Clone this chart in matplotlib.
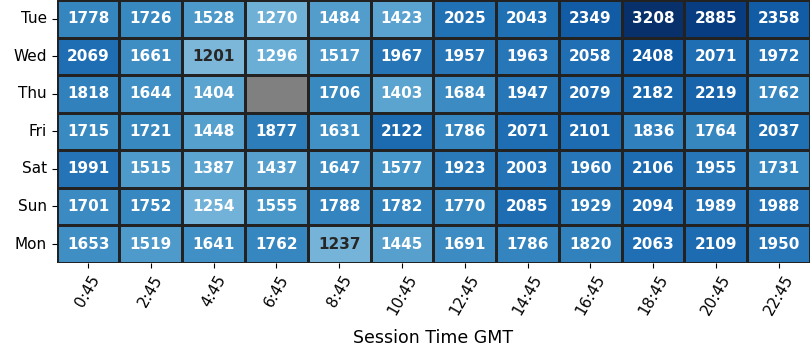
import numpy as np
import pandas as pd
import matplotlib
matplotlib.use('Agg')
import matplotlib.pyplot as plt
from matplotlib.colors import LogNorm
import seaborn as sns

dias = ['Tue', 'Wed', 'Thu', 'Fri', 'Sat', 'Sun', 'Mon']
horas = ['0:45', '2:45', '4:45', '6:45', '8:45', '10:45', '12:45',
         '14:45', '16:45', '18:45', '20:45', '22:45']

tue = [1778, 1726, 1528, 1270, 1484, 1423, 2025, 2043, 2349, 3208, 2885, 2358]
wed = [2069, 1661, 1201, 1296, 1517, 1967, 1957, 1963, 2058, 2408, 2071, 1972]
thu = [1818, 1644, 1404, np.nan, 1706, 1403, 1684, 1947, 2079, 2182, 2219, 1762]
fri = [1715, 1721, 1448, 1877, 1631, 2122, 1786, 2071, 2101, 1836, 1764, 2037]
sat = [1991, 1515, 1387, 1437, 1647, 1577, 1923, 2003, 1960, 2106, 1955, 1731]
sun = [1701, 1752, 1254, 1555, 1788, 1782, 1770, 2085, 1929, 2094, 1989, 1988]
mon = [1653, 1519, 1641, 1762, 1237, 1445, 1691, 1786, 1820, 2063, 2109, 1950]

df = pd.DataFrame([tue, wed, thu, fri, sat, sun, mon], index=dias, columns=horas)

fig, ax = plt.subplots(figsize=(8.1, 3.6), dpi=100)
ax.set_facecolor('gray')
sns.heatmap(df, ax=ax, cmap='Blues', norm=LogNorm(vmin=520, vmax=3208),
            annot=True, fmt='.0f',
            annot_kws={'fontsize': 11, 'fontweight': 'bold'},
            linewidths=1, linecolor='#222222', cbar=False)
ax.set_xlabel('Session Time GMT', fontsize=12.5, labelpad=8)
ax.set_ylabel('')
plt.xticks(rotation=60, fontsize=11)
plt.yticks(rotation=0, fontsize=11)
plt.subplots_adjust(left=0.07, right=1.0, top=1.0, bottom=0.27)
plt.savefig('out.png')
